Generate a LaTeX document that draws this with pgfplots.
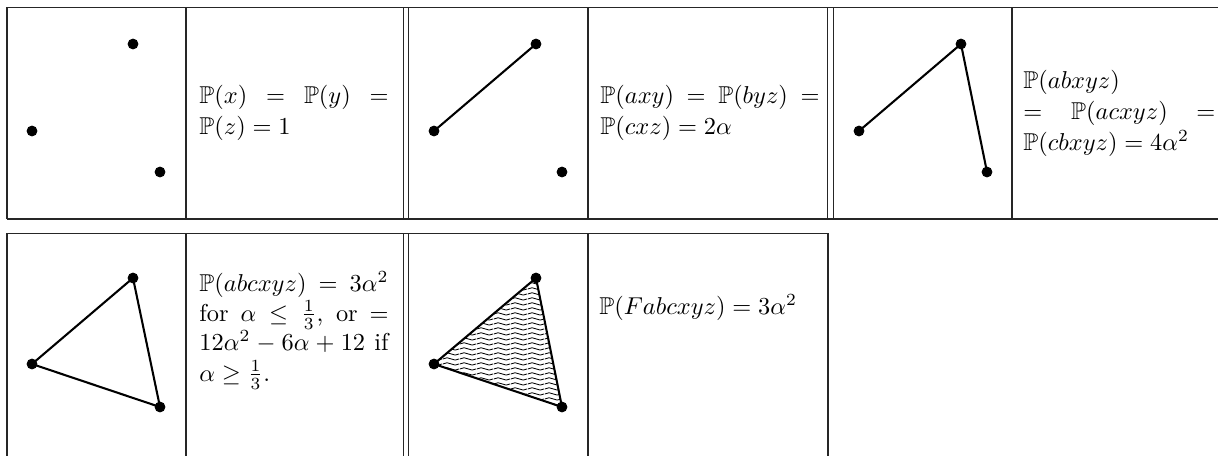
\documentclass[border=0pt]{standalone}
\usepackage{amssymb}
\usepackage{pgfplots}
\pgfplotsset{compat=1.18}
\usetikzlibrary{patterns}

% horizontal wavy hatching for the shaded face
\pgfdeclarepatternformonly{waves}{\pgfqpoint{0pt}{0pt}}{\pgfqpoint{7pt}{2.05pt}}{\pgfqpoint{7pt}{2.05pt}}{%
  \pgfsetlinewidth{0.4pt}%
  \pgfpathmoveto{\pgfqpoint{0pt}{1.02pt}}%
  \pgfpathcurveto{\pgfqpoint{1.17pt}{1.77pt}}{\pgfqpoint{2.33pt}{1.77pt}}{\pgfqpoint{3.5pt}{1.02pt}}%
  \pgfpathcurveto{\pgfqpoint{4.67pt}{0.27pt}}{\pgfqpoint{5.83pt}{0.27pt}}{\pgfqpoint{7pt}{1.02pt}}%
  \pgfusepath{stroke}%
}

\begin{document}
\begin{tikzpicture}[txt/.style={anchor=base west, inner sep=0pt}]
\begin{axis}[
  width=499.2pt, height=186.9pt, scale only axis,
  xmin=0, xmax=1218, ymin=0, ymax=456, y dir=reverse,
  hide axis, clip=false,
  rule/.style={black!85, line width=0.6pt, no marks},
  edge/.style={black, line width=0.85pt, no marks, line join=round},
  vtx/.style={only marks, mark=*, mark size=2pt, black},
]
% ---- table rules, top row
\addplot[rule] coordinates {(7,7.3) (1218,7.3)};
\addplot[rule] coordinates {(7,219) (1218,219)};
\addplot[rule] coordinates {(7,7.3) (7,219)};
\addplot[rule] coordinates {(186,7.3) (186,219)};
\addplot[rule] coordinates {(403.3,7.3) (403.3,219)};
\addplot[rule] coordinates {(408.3,7.3) (408.3,219)};
\addplot[rule] coordinates {(588,7.3) (588,219)};
\addplot[rule] coordinates {(827.3,7.3) (827.3,219)};
\addplot[rule] coordinates {(833.3,7.3) (833.3,219)};
\addplot[rule] coordinates {(1012,7.3) (1012,219)};
% ---- table rules, bottom row
\addplot[rule] coordinates {(7,233.3) (828,233.3)};
\addplot[rule] coordinates {(7,233.3) (7,456)};
\addplot[rule] coordinates {(186,233.3) (186,456)};
\addplot[rule] coordinates {(403.3,233.3) (403.3,456)};
\addplot[rule] coordinates {(408.3,233.3) (408.3,456)};
\addplot[rule] coordinates {(588,233.3) (588,456)};
\addplot[rule] coordinates {(828,233.3) (828,456)};

% ---- top row diagrams
\addplot[vtx] coordinates {(32,131) (133,44) (160,172)};
\addplot[edge] coordinates {(434,131) (536,44)};
\addplot[vtx] coordinates {(434,131) (536,44) (562,172)};
\addplot[edge] coordinates {(859,131) (961,44) (987,172)};
\addplot[vtx] coordinates {(859,131) (961,44) (987,172)};

% ---- bottom row diagrams
\addplot[edge] coordinates {(32,364) (133,278) (160,407) (32,364)} -- cycle;
\addplot[vtx] coordinates {(32,364) (133,278) (160,407)};
\addplot[edge, pattern=waves] coordinates {(434,364) (536,278) (562,407) (434,364)} -- cycle;
\addplot[vtx] coordinates {(434,364) (536,278) (562,407)};

% ---- text cells
\node[txt] at (axis cs:199,103) {\hbox to 77.5pt{$\mathbb{P}(x)=\mathbb{P}(y)=$}};
\node[txt] at (axis cs:199,134) {$\mathbb{P}(z)=1$};

\node[txt] at (axis cs:600,103) {\hbox to 89.8pt{$\mathbb{P}(axy)=\mathbb{P}(byz)=$}};
\node[txt] at (axis cs:600,134) {$\mathbb{P}(cxz)=2\alpha$};

\node[txt] at (axis cs:1023,88) {$\mathbb{P}(abxyz)$};
\node[txt] at (axis cs:1023,119) {\hbox to 78.7pt{$=\mathbb{P}(acxyz)=$}};
\node[txt] at (axis cs:1023,150) {$\mathbb{P}(cbxyz)=4\alpha^2$};

\node[txt] at (axis cs:199,291) {\hbox to 77.5pt{$\mathbb{P}(abcxyz)=3\alpha^2$}};
\node[txt] at (axis cs:199,321) {\hbox to 77.5pt{for $\alpha\leq\frac{1}{3}$, or $=$}};
\node[txt] at (axis cs:199,350) {\hbox to 77.5pt{$12\alpha^2-6\alpha+12$ if}};
\node[txt] at (axis cs:199,381) {$\alpha\geq\frac{1}{3}$.};

\node[txt] at (axis cs:599,314) {$\mathbb{P}(Fabcxyz)=3\alpha^2$};
\end{axis}
\pgfresetboundingbox
\path (current axis.south west) rectangle (current axis.north east);
\end{tikzpicture}
\end{document}
